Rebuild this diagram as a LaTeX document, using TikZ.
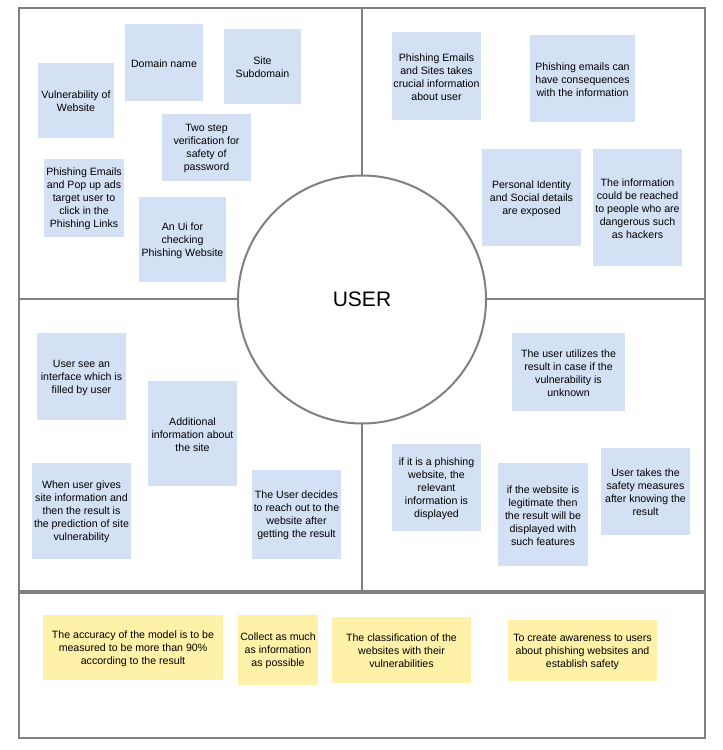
\documentclass[tikz,border=0pt]{standalone}
\usepackage{fontspec}
\setmainfont{Liberation Sans}
\definecolor{framegray}{HTML}{808080}
\definecolor{noteblue}{HTML}{D4E1F5}
\definecolor{noteyellow}{HTML}{FFF1A8}
\newcommand\mknote[7]{%
  \pgfmathsetmacro\nw{#5-#3}\pgfmathsetmacro\nh{#6-#4}%
  \pgfmathsetmacro\ncx{(#3+#5)/2}\pgfmathsetmacro\ncy{(#4+#6)/2}%
  \node[#1, minimum width=\nw pt, minimum height=\nh pt] (#2) at (\ncx,\ncy) {};
  \node[notebase] (#2-t) at ([yshift=-1pt]#2.center) {#7};}
\begin{document}
\begin{tikzpicture}[x=1pt,y=-1pt,
  frame/.style={draw=framegray, line width=2pt},
  notebase/.style={inner sep=0pt, align=center, font={\fontsize{10.6}{13}\selectfont}},
  bluenote/.style={inner sep=0pt, fill=noteblue},
  yellownote/.style={inner sep=0pt, fill=noteyellow}]
\useasboundingbox (0,0) rectangle (723,750);
\fill[white] (0,0) rectangle (723,750);
% frames
\draw[frame] (19,8) rectangle (705,591);
\draw[frame] (19,593) rectangle (705,738);
\draw[frame] (362,8) -- (362,591);
\draw[frame] (19,299) -- (705,299);
% central circle
\node[circle, draw=framegray, line width=2pt, fill=white, minimum size=248pt, inner sep=0pt,
  font={\fontsize{21}{25}\selectfont}] (user) at (362,299.5) {USER};
% top-left
\mknote{bluenote}{vw}{38}{63}{114}{138}{Vulnerability of\\Website}
\mknote{bluenote}{dn}{125}{24}{203}{101}{Domain name}
\mknote{bluenote}{ss}{224}{29}{301}{104}{Site\\Subdomain}
\mknote{bluenote}{ts}{162}{114}{251}{181}{Two step\\verification for\\safety of\\password}
\mknote{bluenote}{pe}{44}{159}{124}{237}{Phishing Emails\\and Pop up ads\\target user to\\click in the\\Phishing Links}
\mknote{bluenote}{ui}{139}{197}{226}{282}{An Ui for\\checking\\Phishing Website}
% top-right
\mknote{bluenote}{ps}{392}{32}{481}{120}{Phishing Emails\\and Sites takes\\crucial information\\about user}
\mknote{bluenote}{pc}{530}{35}{635}{122}{Phishing emails can\\have consequences\\with the information}
\mknote{bluenote}{pi}{482}{149}{581}{246}{Personal Identity\\and Social details\\are exposed}
\mknote{bluenote}{ir}{593}{149}{682}{266}{The information\\could be reached\\to people who are\\dangerous such\\as hackers}
% bottom-left
\mknote{bluenote}{us}{37}{333}{126}{420}{User see an\\interface which is\\filled by user}
\mknote{bluenote}{ai}{148}{381}{237}{486}{Additional\\information about\\the site}
\mknote{bluenote}{wu}{32}{463}{131}{559}{When user gives\\site information and\\then the result is\\the prediction of site\\vulnerability}
\mknote{bluenote}{ud}{252}{470}{341}{559}{The User decides\\to reach out to the\\website after\\getting the result}
% bottom-right
\mknote{bluenote}{uu}{512}{333}{625}{411}{The user utilizes the\\result in case if the\\vulnerability is\\unknown}
\mknote{bluenote}{ip}{392}{444}{481}{531}{if it is a phishing\\website, the\\relevant\\information is\\displayed}
\mknote{bluenote}{il}{498}{463}{588}{566}{if the website is\\legitimate then\\the result will be\\displayed with\\such features}
\mknote{bluenote}{ut}{601}{448}{690}{535}{User takes the\\safety measures\\after knowing the\\result}
% bottom panel
\mknote{yellownote}{ac}{43}{615}{223}{680}{The accuracy of the model is to be\\measured to be more than 90\%\\according to the result}
\mknote{yellownote}{co}{238}{615}{318}{685}{Collect as much\\as information\\as possible}
\mknote{yellownote}{cl}{332}{617}{471}{683}{The classification of the\\websites with their\\vulnerabilities}
\mknote{yellownote}{aw}{508}{620}{657}{681}{To create awareness to users\\about phishing websites and\\establish safety}
\end{tikzpicture}
\end{document}
